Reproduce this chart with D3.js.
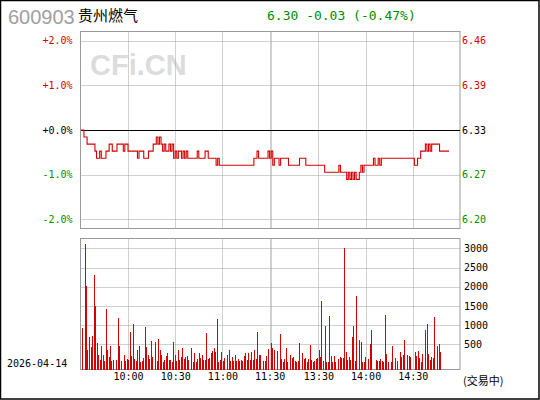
<!DOCTYPE html>
<html>
<head>
<meta charset="utf-8">
<script src="https://cdn.jsdelivr.net/npm/d3@7"></script>
<style>
body { margin: 0; background: #fff; }
</style>
</head>
<body>
<div id="chart"></div>
<script>
// stock info
var code = "600903", stockName = "贵州燃气", tradeDate = "2026-04-14", status = "(交易中)";
var prevClose = 6.33;

// ticks
var pctTicks = [0.02, 0.01, 0, -0.01, -0.02];
var timeTicks = [30, 60, 90, 120, 151, 181, 211];
var timeLabels = ["10:00", "10:30", "11:00", "11:30", "13:30", "14:00", "14:30"];
var noonBreak = 121; // 13:00
var volTicks = [500, 1000, 1500, 2000, 2500, 3000];

// minute prices
var price = [
  6.33,6.33,6.32,6.32,6.31,6.31,6.31,6.31,6.31,6.30,
  6.29,6.29,6.30,6.29,6.29,6.29,6.30,6.30,6.31,6.31,
  6.30,6.30,6.30,6.31,6.31,6.31,6.31,6.30,6.31,6.31,
  6.30,6.30,6.30,6.30,6.30,6.30,6.29,6.30,6.30,6.30,
  6.29,6.29,6.29,6.30,6.30,6.30,6.31,6.31,6.32,6.31,
  6.32,6.31,6.30,6.31,6.30,6.30,6.31,6.30,6.31,6.29,
  6.30,6.29,6.30,6.30,6.29,6.30,6.29,6.30,6.29,6.29,
  6.29,6.29,6.29,6.29,6.30,6.29,6.29,6.29,6.29,6.30,
  6.30,6.29,6.29,6.29,6.29,6.29,6.28,6.29,6.28,6.28,
  6.28,6.28,6.28,6.28,6.28,6.28,6.28,6.28,6.28,6.28,
  6.28,6.28,6.28,6.28,6.28,6.28,6.28,6.28,6.28,6.28,
  6.29,6.29,6.30,6.29,6.29,6.29,6.29,6.29,6.29,6.30,
  6.29,6.30,6.28,6.29,6.29,6.29,6.28,6.29,6.29,6.29,
  6.29,6.29,6.28,6.28,6.28,6.28,6.28,6.28,6.28,6.29,
  6.29,6.29,6.29,6.28,6.28,6.28,6.28,6.28,6.28,6.28,
  6.28,6.28,6.28,6.28,6.28,6.27,6.27,6.27,6.27,6.27,
  6.27,6.27,6.27,6.27,6.28,6.27,6.27,6.27,6.27,6.26,
  6.27,6.26,6.27,6.26,6.27,6.26,6.26,6.27,6.28,6.27,
  6.28,6.28,6.28,6.28,6.28,6.28,6.29,6.28,6.28,6.29,
  6.28,6.29,6.29,6.29,6.29,6.29,6.29,6.29,6.29,6.29,
  6.29,6.29,6.29,6.29,6.29,6.29,6.29,6.29,6.29,6.29,
  6.29,6.29,6.28,6.28,6.29,6.29,6.30,6.30,6.30,6.31,
  6.30,6.31,6.30,6.31,6.31,6.31,6.31,6.31,6.30,6.30,
  6.30,6.30,6.30,6.30,6.30
];

// minute volumes
var volume = [
  924,0,3112,2010,351,690,430,716,2305,1488,
  534,230,99,456,220,65,1420,351,170,456,
  65,90,0,90,1180,456,65,0,220,65,
  117,90,820,195,1030,117,65,351,456,38,
  65,143,950,430,220,117,586,170,0,560,
  65,638,351,220,38,90,195,273,90,90,
  38,560,220,65,351,90,170,404,117,170,
  195,90,0,404,38,273,38,117,273,143,
  220,90,90,794,117,143,273,325,404,300,
  1154,38,90,300,65,143,0,220,351,65,
  170,65,220,65,117,65,90,65,195,273,
  90,273,90,300,90,351,117,820,220,220,
  0,65,65,195,378,0,534,404,351,0,
  325,0,768,117,38,117,404,38,0,220,
  143,170,65,38,65,534,0,273,117,143,
  38,117,482,90,38,65,117,143,351,170,
  1628,65,976,38,38,1237,195,38,195,38,
  0,117,170,143,143,3008,300,90,170,90,
  690,976,65,1758,0,612,560,38,38,170,
  0,117,508,872,0,0,90,65,65,117,
  65,38,1263,247,38,0,38,456,0,143,
  65,0,300,170,220,612,0,220,195,170,
  0,0,300,195,325,143,38,247,0,872,
  1030,247,90,170,143,1211,0,456,508,300
];

var width = 540, height = 400;
var left = 80.5, right = 460;
var pTop = 31.5, pBottom = 228.5;
var vTop = 238.5, vBottom = 369.5;

var red = "#d40000", green = "#008c00", grid = "#a0a0a0";
var mono = "'DejaVu Sans Mono', monospace";

var svg = d3.select("#chart")
  .append("svg")
    .attr("width", width)
    .attr("height", height)
    .style("display", "block");

svg.append("rect")
  .attr("x", 0.5).attr("y", 0.5)
  .attr("width", 538.5).attr("height", 398.5)
  .attr("fill", "#fff")
  .attr("stroke", "#000")
  .attr("stroke-width", 1.5);

// scales
var x = d3.scaleLinear().domain([0, 241]).range([80.8, 460]);
var vx = d3.scaleLinear().domain([0, 240]).range([82, 442]);
var y = d3.scaleLinear()
  .domain([prevClose * 0.98, prevClose * 1.02])
  .range([219.3, 40.7]);
var vy = d3.scaleLinear().domain([0, 3000]).range([363.5, 248.3]);

// title
svg.append("text")
  .attr("x", 8).attr("y", 24)
  .attr("font-family", "'Liberation Sans', Arial, sans-serif")
  .attr("font-size", "20px")
  .attr("fill", "#a0a0a0")
  .text(code);

svg.append("text")
  .attr("x", 78).attr("y", 21)
  .attr("font-family", "'Noto Sans CJK SC', sans-serif")
  .attr("font-size", "15px")
  .attr("fill", "#000")
  .text(stockName);

var last = price[price.length - 1];
var chg = last - prevClose;
svg.append("text")
  .attr("x", 267).attr("y", 20)
  .attr("font-family", mono)
  .attr("font-size", "13px")
  .attr("fill", chg < 0 ? green : red)
  .text(last.toFixed(2) + " " + (chg >= 0 ? "+" : "") + chg.toFixed(2) +
        " (" + (chg >= 0 ? "+" : "") + (chg / prevClose * 100).toFixed(2) + "%)");

// panels
svg.append("rect")
  .attr("x", left).attr("y", pTop)
  .attr("width", right - left).attr("height", pBottom - pTop)
  .attr("fill", "#fff").attr("stroke", "#999");

svg.append("rect")
  .attr("x", left).attr("y", vTop)
  .attr("width", right - left).attr("height", vBottom - vTop)
  .attr("fill", "#fff").attr("stroke", "#999");

// watermark
svg.append("text")
  .attr("x", 90).attr("y", 75)
  .attr("font-family", "'Liberation Sans', Arial, sans-serif")
  .attr("font-weight", "bold")
  .attr("font-size", "29px")
  .attr("fill", "#dcdcdc")
  .text("CFi.CN");

// grid lines
var vLines = timeTicks.concat([noonBreak]);

svg.append("g").selectAll("line")
  .data(pctTicks.filter(function(p){ return p !== 0; }))
  .enter().append("line")
    .attr("x1", left).attr("x2", right)
    .attr("y1", function(p){ return Math.round(y(prevClose * (1 + p))) + 0.5; })
    .attr("y2", function(p){ return Math.round(y(prevClose * (1 + p))) + 0.5; })
    .attr("stroke", grid).attr("stroke-dasharray", "1,1");

svg.append("g").selectAll("line")
  .data(vLines)
  .enter().append("line")
    .attr("x1", function(d){ return Math.round(x(d)) + 0.5; })
    .attr("x2", function(d){ return Math.round(x(d)) + 0.5; })
    .attr("y1", pTop).attr("y2", pBottom)
    .attr("stroke", grid).attr("stroke-dasharray", "1,1");

svg.append("g").selectAll("line")
  .data(volTicks)
  .enter().append("line")
    .attr("x1", left).attr("x2", right)
    .attr("y1", function(d){ return Math.round(vy(d)) + 0.5; })
    .attr("y2", function(d){ return Math.round(vy(d)) + 0.5; })
    .attr("stroke", grid).attr("stroke-dasharray", "1,1");

svg.append("g").selectAll("line")
  .data(vLines)
  .enter().append("line")
    .attr("x1", function(d){ return Math.round(x(d)) + 0.5; })
    .attr("x2", function(d){ return Math.round(x(d)) + 0.5; })
    .attr("y1", vTop).attr("y2", vBottom)
    .attr("stroke", grid).attr("stroke-dasharray", "1,1");

// previous close line
svg.append("line")
  .attr("x1", left + 0.5).attr("x2", right)
  .attr("y1", Math.round(y(prevClose)) + 0.5)
  .attr("y2", Math.round(y(prevClose)) + 0.5)
  .attr("stroke", "#000").attr("stroke-width", 1.2);

// price line
var line = d3.line()
  .x(function(d, i){ return x(i); })
  .y(function(d){ return y(d); })
  .curve(d3.curveStepAfter);

svg.append("path")
  .datum(price)
  .attr("d", line)
  .attr("fill", "none")
  .attr("stroke", red)
  .attr("stroke-width", 1.1);

// volume bars
svg.append("g").selectAll("rect")
  .data(volume.map(function(v, i){ return { i: i, v: v }; })
    .filter(function(d){ return d.v > 0; }))
  .enter().append("rect")
    .attr("x", function(d){ return Math.floor(vx(d.i)); })
    .attr("width", 1)
    .attr("y", function(d){ return Math.round(vy(d.v)); })
    .attr("height", function(d){ return vBottom - Math.round(vy(d.v)); })
    .attr("fill", red)
    .attr("shape-rendering", "crispEdges");

// axes
function pctColor(p){ return p > 0 ? red : (p < 0 ? green : "#000"); }

var priceTicks = pctTicks.map(function(p){ return prevClose * (1 + p); });

var leftAxis = svg.append("g")
  .attr("transform", "translate(" + left + ",0)")
  .call(d3.axisLeft(y).tickValues(priceTicks).tickSize(0).tickPadding(8)
    .tickFormat(function(d, i){
      var p = pctTicks[i];
      return (p >= 0 ? "+" : "-") + Math.abs(p * 100).toFixed(1) + "%";
    }));
leftAxis.select(".domain").remove();
leftAxis.selectAll("text")
  .attr("font-family", mono).attr("font-size", "10px")
  .attr("fill", function(d, i){ return pctColor(pctTicks[i]); });

var rightAxis = svg.append("g")
  .attr("transform", "translate(" + right + ",0)")
  .call(d3.axisRight(y).tickValues(priceTicks).tickSize(0).tickPadding(2)
    .tickFormat(d3.format(".2f")));
rightAxis.select(".domain").remove();
rightAxis.selectAll("text")
  .attr("font-family", mono).attr("font-size", "10px")
  .attr("fill", function(d, i){ return pctColor(pctTicks[i]); });

var volAxis = svg.append("g")
  .attr("transform", "translate(" + right + ",0)")
  .call(d3.axisRight(vy).tickValues(volTicks).tickSize(0).tickPadding(4)
    .tickFormat(d3.format("d")));
volAxis.select(".domain").remove();
volAxis.selectAll("text")
  .attr("font-family", mono).attr("font-size", "10px").attr("fill", "#000");

var timeAxis = svg.append("g")
  .attr("transform", "translate(0," + vBottom + ")")
  .call(d3.axisBottom(x).tickValues(timeTicks).tickSize(0).tickPadding(3)
    .tickFormat(function(d, i){ return timeLabels[i]; }));
timeAxis.select(".domain").remove();
timeAxis.selectAll("text")
  .attr("font-family", mono).attr("font-size", "10px").attr("fill", "#000");

// date & status
svg.append("text")
  .attr("x", 7).attr("y", 367)
  .attr("font-family", mono).attr("font-size", "10px")
  .attr("fill", "#000")
  .text(tradeDate);

svg.append("text")
  .attr("x", 463).attr("y", 385)
  .attr("font-family", "'Noto Sans CJK SC', sans-serif")
  .attr("font-size", "11px")
  .attr("fill", "#000")
  .text(status);
</script>
</body>
</html>
